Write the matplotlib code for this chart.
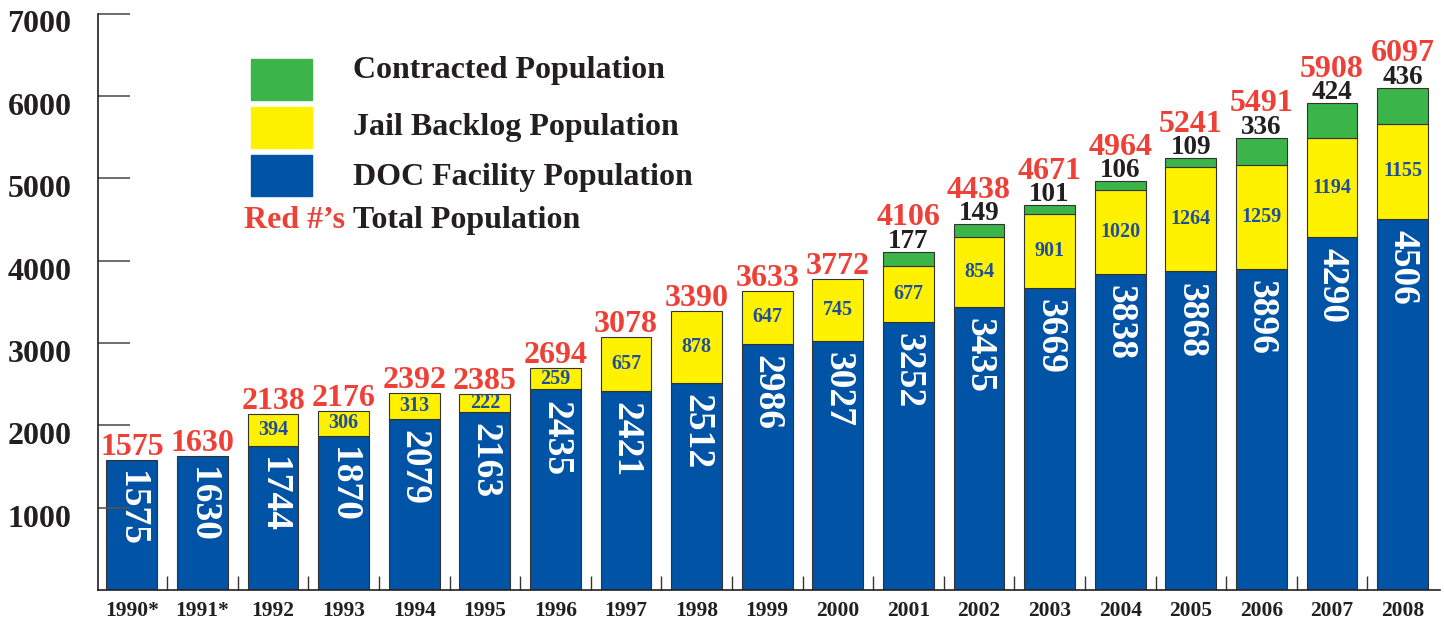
import matplotlib
matplotlib.use("Agg")
import matplotlib.pyplot as plt
import matplotlib.transforms as mtrans
from matplotlib.patches import Rectangle
import numpy as np

years = ["1990*", "1991*", "1992", "1993", "1994", "1995", "1996", "1997", "1998",
         "1999", "2000", "2001", "2002", "2003", "2004", "2005", "2006", "2007", "2008"]
doc = [1575, 1630, 1744, 1870, 2079, 2163, 2435, 2421, 2512, 2986, 3027,
       3252, 3435, 3669, 3838, 3868, 3896, 4290, 4506]
backlog = [0, 0, 394, 306, 313, 222, 259, 657, 878, 647, 745,
           677, 854, 901, 1020, 1264, 1259, 1194, 1155]
contracted = [0, 0, 0, 0, 0, 0, 0, 0, 0, 0, 0,
              177, 149, 101, 106, 109, 336, 424, 436]
yticks = [1000, 2000, 3000, 4000, 5000, 6000, 7000]

BLUE = "#0053a5"
YELLOW = "#fff200"
GREEN = "#3bb54a"
RED = "#ee4036"
SERIF = "Liberation Serif"

W, H = 1444, 621
fig = plt.figure(figsize=(W / 100, H / 100), dpi=100)
ax = fig.add_axes([98 / W, (H - 590) / H, (1440 - 98) / W, (590 - 13.5) / H])

x = np.arange(len(years))
doc = np.array(doc)
backlog = np.array(backlog)
contracted = np.array(contracted)
total = doc + backlog + contracted

bw = 0.72
ec = "#333333"
ax.bar(x, doc, bw, color=BLUE, edgecolor=ec, linewidth=0.8)
yb = backlog > 0
ax.bar(x[yb], backlog[yb], bw, bottom=doc[yb], color=YELLOW, edgecolor=ec, linewidth=0.8)
gb = contracted > 0
ax.bar(x[gb], contracted[gb], bw, bottom=(doc + backlog)[gb], color=GREEN,
       edgecolor=ec, linewidth=0.8)

for i in range(len(years)):
    # DOC value, rotated inside the blue segment
    ax.annotate(str(doc[i]), (x[i], doc[i]), xytext=(0, -8), textcoords="offset points",
                rotation=-90, ha="center", va="top", color="white",
                fontsize=27, fontweight="bold", family=SERIF)
    if backlog[i]:
        ax.text(x[i], doc[i] + backlog[i] / 2, str(backlog[i]), ha="center", va="center",
                color="#1f4e9c", fontsize=14.5, fontweight="bold", family=SERIF)
    if contracted[i]:
        ax.annotate(str(contracted[i]), (x[i], total[i]), xytext=(0, 3),
                    textcoords="offset points", ha="center", va="baseline",
                    color="#231f20", fontsize=19.5, fontweight="bold", family=SERIF)
        off = 19
    else:
        off = 3.5
    ax.annotate(str(total[i]), (x[i], total[i]), xytext=(0, off),
                textcoords="offset points", ha="center", va="baseline",
                color=RED, fontsize=23, fontweight="bold", family=SERIF)

ax.set_xlim(-0.48, len(years) - 1 + 0.53)
ax.set_ylim(0, 7000)
ax.set_yticks(yticks)
ax.set_yticklabels([str(v) for v in yticks], fontsize=23, fontweight="bold",
                   family=SERIF, color="#231f20")
ax.tick_params(axis="y", direction="in", length=23, width=1.2, color="#555555", pad=19)
ax.set_xticks(x)
ax.set_xticklabels(years, fontsize=15.5, fontweight="bold", family=SERIF, color="#231f20")
ax.set_xticks(x[:-1] + 0.5, minor=True)
ax.tick_params(axis="x", which="major", length=0, pad=8)
ax.tick_params(axis="x", which="minor", direction="in", length=10, width=1, color="#333333")
for s in ["top", "right"]:
    ax.spines[s].set_visible(False)
for s in ["left", "bottom"]:
    ax.spines[s].set_color("#231f20")
    ax.spines[s].set_linewidth(1.2)

# y tick labels sit a little lower than their tick marks
for lab in ax.get_yticklabels():
    lab.set_transform(lab.get_transform() + mtrans.ScaledTranslation(0, -8 / 100, fig.dpi_scale_trans))

# legend drawn by hand
def fx(px):
    return px / W

def fy(py):
    return 1 - py / H

legend_items = [(GREEN, 59, 78, "Contracted Population"),
                (YELLOW, 107, 135, "Jail Backlog Population"),
                (BLUE, 155, 185, "DOC Facility Population")]
for col, top, base, label in legend_items:
    fig.add_artist(Rectangle((fx(251), fy(top + 41)), fx(312) - fx(251), 41 / H,
                             transform=fig.transFigure, color=col))
    fig.text(fx(353), fy(base), label, ha="left", va="baseline", fontsize=23,
             fontweight="bold", family=SERIF, color="#231f20")
fig.text(fx(345), fy(228), "Red #\u2019s", ha="right", va="baseline", fontsize=23,
         fontweight="bold", family=SERIF, color=RED)
fig.text(fx(353), fy(228), "Total Population", ha="left", va="baseline", fontsize=23,
         fontweight="bold", family=SERIF, color="#231f20")

fig.savefig("out.png", dpi=100)
